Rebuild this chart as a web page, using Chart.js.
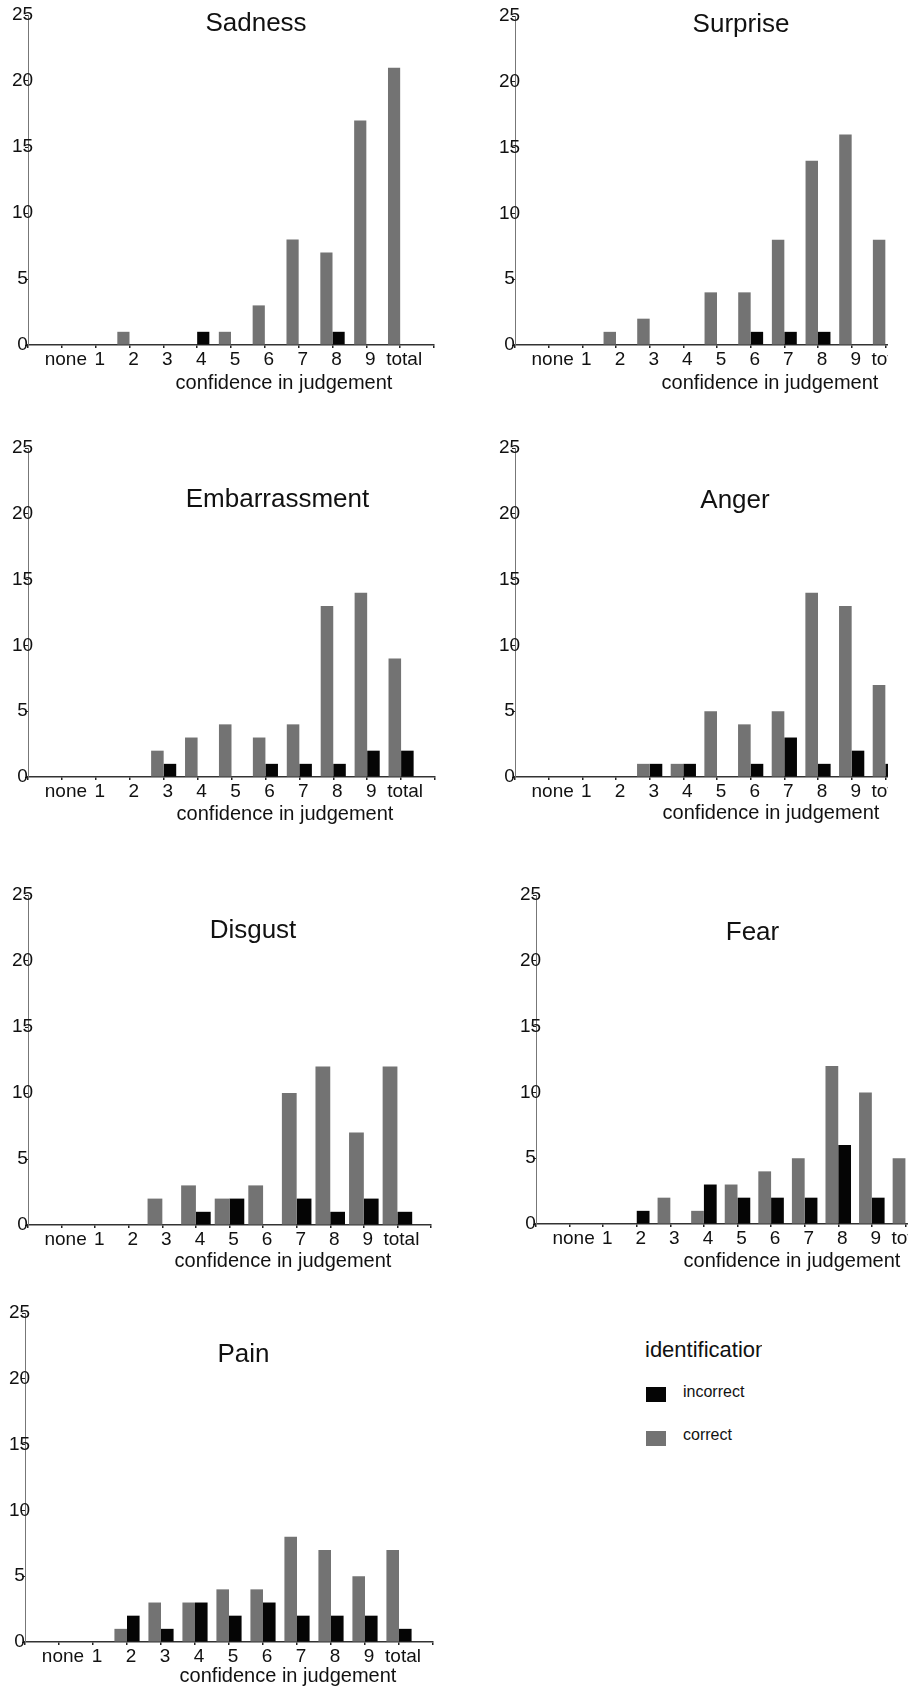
<!DOCTYPE html>
<html><head><meta charset="utf-8">
<script src="https://cdn.jsdelivr.net/npm/chart.js@4.4.1/dist/chart.umd.min.js"></script>
<style>
html,body{margin:0;padding:0;background:#fff;}
body{width:917px;height:1689px;position:relative;overflow:hidden;font-family:'Liberation Sans',Arial,sans-serif;color:#111;}
.clip{position:absolute;overflow:hidden;}
.title{position:absolute;font-size:26px;line-height:26px;white-space:nowrap;transform:translateX(-50%);}
.xtitle{position:absolute;font-size:20px;line-height:20px;white-space:nowrap;transform:translateX(-50%);}
.lg{position:absolute;white-space:nowrap;}
</style></head><body>
<script>
// ---------- data ----------
const categories = ['none','1','2','3','4','5','6','7','8','9','total'];
const yTicks = [0, 5, 10, 15, 20, 25];
const xAxisTitle = 'confidence in judgement';
const legendTitle = 'identification';
const legendLabels = ['incorrect', 'correct'];

const sadnessCorrect         = [0,0,1,0,0,1,3,8,7,17,21];
const sadnessIncorrect       = [0,0,0,0,1,0,0,0,1,0,0];
const surpriseCorrect        = [0,0,1,2,0,4,4,8,14,16,8];
const surpriseIncorrect      = [0,0,0,0,0,0,1,1,1,0,0];
const embarrassmentCorrect   = [0,0,0,2,3,4,3,4,13,14,9];
const embarrassmentIncorrect = [0,0,0,1,0,0,1,1,1,2,2];
const angerCorrect           = [0,0,0,1,1,5,4,5,14,13,7];
const angerIncorrect         = [0,0,0,1,1,0,1,3,1,2,1];
const disgustCorrect         = [0,0,0,2,3,2,3,10,12,7,12];
const disgustIncorrect       = [0,0,0,0,1,2,0,2,1,2,1];
const fearCorrect            = [0,0,0,2,1,3,4,5,12,10,5];
const fearIncorrect          = [0,0,1,0,3,2,2,2,6,2,0];
const painCorrect            = [0,0,1,3,3,4,4,8,7,5,7];
const painIncorrect          = [0,0,2,1,3,2,3,2,2,2,1];

// ---------- styles / layout ----------
const GRAY = '#737373';
const BLACK = '#050505';
Chart.defaults.font.family = "'Liberation Sans', Arial, sans-serif";

const panels = [
  {title:'Sadness', correct:sadnessCorrect, incorrect:sadnessIncorrect,
   left:28, top:15, bottom:345, width:406, clipRight:null, cat:0.72, tx:256, tb:31, xx:284, xb:389},
  {title:'Surprise', correct:surpriseCorrect, incorrect:surpriseIncorrect,
   left:515, top:16, bottom:345, width:404, clipRight:888, cat:0.74, tx:741, tb:32, xx:770, xb:389},
  {title:'Embarrassment', correct:embarrassmentCorrect, incorrect:embarrassmentIncorrect,
   left:28, top:448, bottom:777, width:407, clipRight:null, cat:0.74, tx:277.5, tb:507, xx:285, xb:820},
  {title:'Anger', correct:angerCorrect, incorrect:angerIncorrect,
   left:515, top:448, bottom:777, width:404, clipRight:888, cat:0.75, tx:735, tb:508, xx:771, xb:819},
  {title:'Disgust', correct:disgustCorrect, incorrect:disgustIncorrect,
   left:28, top:895, bottom:1225, width:403, clipRight:null, cat:0.88, tx:253, tb:938, xx:283, xb:1267},
  {title:'Fear', correct:fearCorrect, incorrect:fearIncorrect,
   left:536, top:895, bottom:1224, width:403, clipRight:908, cat:0.76, tx:752.5, tb:940, xx:792, xb:1267},
  {title:'Pain', correct:painCorrect, incorrect:painIncorrect,
   left:25, top:1313, bottom:1642, width:408, clipRight:null, cat:0.74, tx:243.5, tb:1362, xx:288, xb:1682}
];

function addText(cls, text, x, top){
  const d = document.createElement('div');
  d.className = cls; d.textContent = text;
  d.style.left = x + 'px'; d.style.top = top + 'px';
  document.body.appendChild(d);
  return d;
}

function makeChart(p){
  const padL = 60, padT = 20, padR = 40, padB = 40;
  const chartH = p.bottom - p.top;
  const cw = padL + p.width + padR, ch = padT + chartH + padB;
  const cl = p.left - padL, ct = p.top - padT;
  const wrap = document.createElement('div');
  wrap.className = 'clip';
  wrap.style.left = cl + 'px'; wrap.style.top = ct + 'px';
  wrap.style.width = (p.clipRight ? p.clipRight - cl : cw) + 'px';
  wrap.style.height = ch + 'px';
  const canvas = document.createElement('canvas');
  canvas.width = cw; canvas.height = ch;
  canvas.style.width = cw + 'px'; canvas.style.height = ch + 'px';
  wrap.appendChild(canvas);
  document.body.appendChild(wrap);

  new Chart(canvas, {
    type: 'bar',
    data: {
      labels: ['', ...categories, ''],
      datasets: [
        {label:'correct', data:[null, ...p.correct, null], backgroundColor:GRAY, borderWidth:0,
         categoryPercentage:p.cat, barPercentage:1.0},
        {label:'incorrect', data:[null, ...p.incorrect, null], backgroundColor:BLACK, borderWidth:0,
         categoryPercentage:p.cat, barPercentage:1.0}
      ]
    },
    options: {
      responsive:false, animation:false, devicePixelRatio:1,
      layout:{padding:{left:0, top:padT, right:padR, bottom:0}},
      plugins:{legend:{display:false}, tooltip:{enabled:false}, title:{display:false}},
      scales:{
        x:{
          type:'category', offset:false,
          grid:{display:true, drawOnChartArea:false, drawTicks:true, tickLength:3, offset:false, color:'#222', lineWidth:1.5},
          border:{display:true, color:'#333', width:1.5},
          ticks:{autoSkip:false, maxRotation:0, minRotation:0, padding:0, color:'#111', font:{size:19}, labelOffset:4},
          afterFit(s){ s.height = padB; }
        },
        y:{
          min:0, max:25,
          afterBuildTicks(s){ s.ticks = yTicks.map(v => ({value:v})); },
          grid:{display:true, drawOnChartArea:false, drawTicks:true, tickLength:3, color:'#222'},
          border:{display:true, color:'#777', width:1},
          ticks:{mirror:true, crossAlign:'center', padding:-16, color:'#111', font:{size:19}},
          afterFit(s){ s.width = padL; }
        }
      }
    }
  });

  addText('title', p.title, p.tx, p.tb - 22);
  addText('xtitle', xAxisTitle, p.xx, p.xb - 17);
}

panels.forEach(makeChart);

// ---------- legend ----------
(function(){
  const clip = document.createElement('div');
  clip.className = 'clip';
  clip.style.left = '640px'; clip.style.top = '1330px';
  clip.style.width = '122px'; clip.style.height = '40px';
  const t = document.createElement('div');
  t.className = 'lg'; t.textContent = legendTitle;
  t.style.left = '5px'; t.style.top = '9.4px';
  t.style.fontSize = '22px'; t.style.lineHeight = '22px';
  clip.appendChild(t);
  document.body.appendChild(clip);

  const items = [
    {label:legendLabels[0], color:BLACK, sq:1387, base:1397},
    {label:legendLabels[1], color:GRAY, sq:1431, base:1440}
  ];
  items.forEach(it => {
    const s = document.createElement('div');
    s.style.position = 'absolute';
    s.style.left = '646px'; s.style.top = it.sq + 'px';
    s.style.width = '20px'; s.style.height = '15px';
    s.style.background = it.color;
    document.body.appendChild(s);
    const d = addText('lg', it.label, 683, it.base - 13.5);
    d.style.fontSize = '16px'; d.style.lineHeight = '16px';
  });
})();
</script>
</body></html>
